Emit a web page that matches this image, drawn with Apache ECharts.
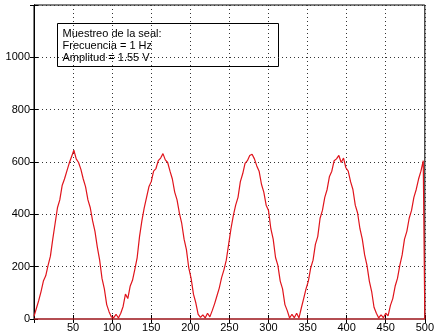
<!DOCTYPE html>
<html><head><meta charset="utf-8">
<script src="https://cdn.jsdelivr.net/npm/echarts@6/dist/echarts.min.js"></script>
<style>html,body{margin:0;padding:0;background:#fff}#c{width:437px;height:333px}</style>
</head><body><div id="c"></div>
<script>
var sampleX = [0,3,6,9,12,15,18,21,24,27,30,33,36,39,42,45,48,51,54,57,60,63,66,69,72,75,78,81,84,87,90,93,96,99,102,105,108,111,114,117,120,123,126,129,132,135,138,141,144,147,150,153,156,159,162,165,168,171,174,177,180,183,186,189,192,195,198,201,204,207,210,213,216,219,222,225,228,231,234,237,240,243,246,249,252,255,258,261,264,267,270,273,276,279,282,285,288,291,294,297,300,303,306,309,312,315,318,321,324,327,330,333,336,339,342,345,348,351,354,357,360,363,366,369,372,375,378,381,384,387,390,393,396,399,402,405,408,411,414,417,420,423,426,429,432,435,438,441,444,447,450,453,456,459,462,465,468,471,474,477,480,483,486,489,492,495,498,500,500,0];
var signalY = [10,40,70,105,145,165,205,240,305,365,425,455,510,535,565,595,620,645,612,598,572,535,505,455,425,375,335,275,225,155,115,55,28,8,5,18,4,22,48,95,78,125,148,190,235,315,375,425,465,505,525,565,575,605,615,632,608,598,565,535,485,455,405,365,305,265,195,155,95,62,18,6,16,4,22,8,32,58,88,118,158,188,225,285,345,395,435,465,525,555,595,605,625,630,612,585,565,515,485,435,415,345,305,235,205,145,115,55,32,4,18,5,22,4,42,78,115,145,195,225,285,315,385,415,465,495,545,565,605,612,625,598,615,578,565,525,495,435,405,345,305,245,205,145,105,45,22,4,16,5,22,12,52,78,125,155,205,245,305,335,385,415,465,495,535,565,605,612,0,0];
var xTicks = [50,100,150,200,250,300,350,400,450,500];
var yTicks = [0,200,400,600,800,1000];
var infoLines = ['Muestreo de la seal:', 'Frecuencia = 1 Hz', 'Amplitud = 1.55 V'];

var pts = sampleX.map(function(x,i){return [x, signalY[i]];});
var font = 'Liberation Sans, Arial, sans-serif';
var dotted = {show:true, lineStyle:{color:'#333', type:[1,3], width:1}};
var chart = echarts.init(document.getElementById('c'), null, {renderer:'canvas'});
chart.setOption({
  animation:false,
  backgroundColor:'#fff',
  grid:{left:34, top:5, right:3, bottom:13, show:true, borderColor:'#000', borderWidth:1},
  xAxis:[{type:'value', min:0, max:500, interval:50, position:'bottom',
    axisLine:{show:true, onZero:false, lineStyle:{color:'#000'}},
    axisTick:{show:true, inside:true, length:4, lineStyle:{color:'#000'}},
    axisLabel:{fontFamily:font, fontSize:11, color:'#000', margin:3,
      formatter:function(v){return xTicks.indexOf(v)>=0 ? String(v) : '';}},
    splitLine:dotted},
   {type:'value', min:0, max:500, interval:50, position:'top',
    axisLine:{show:true, lineStyle:{color:'#888', width:2}},
    axisTick:{show:true, inside:true, length:4, lineStyle:{color:'#000'}},
    axisLabel:{show:false}, splitLine:{show:false}}],
  yAxis:[{type:'value', min:0, max:1200, interval:200, position:'left',
    axisLine:{show:true, onZero:false, lineStyle:{color:'#000'}},
    axisTick:{show:true, inside:true, length:4, lineStyle:{color:'#000'}},
    axisLabel:{fontFamily:font, fontSize:11, color:'#000', margin:4,
      formatter:function(v){return yTicks.indexOf(v)>=0 ? String(v) : '';}},
    splitLine:dotted},
   {type:'value', min:0, max:1200, interval:200, position:'right',
    axisLine:{show:true, lineStyle:{color:'#000'}},
    axisTick:{show:true, inside:true, length:4, lineStyle:{color:'#000'}},
    axisLabel:{show:false}, splitLine:{show:false}}],
  series:[{type:'line', data:pts, showSymbol:false, symbol:'none', clip:false,
    lineStyle:{color:'#e0141c', width:1.2}, z:20, zlevel:1}],
  graphic:[{type:'group', left:57, top:23, z:100, zlevel:2, children:[
    {type:'rect', shape:{x:0,y:0,width:221,height:43}, style:{fill:'#fff', stroke:'#000', lineWidth:1}},
    {type:'text', x:5, y:4, style:{text:infoLines.join('\n'), font:'11px '+font, fill:'#000', lineHeight:12}}
  ]}]
});
</script></body></html>
